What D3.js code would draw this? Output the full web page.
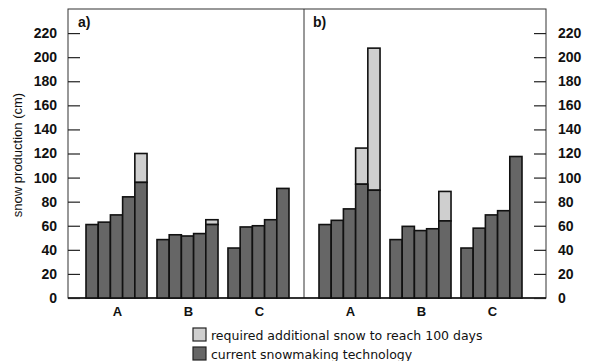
<!DOCTYPE html>
<html>
<head>
<meta charset="utf-8">
<script src="https://cdn.jsdelivr.net/npm/d3@7"></script>
<style>
  body { margin: 0; background: #fff; }
  svg { display: block; }
</style>
</head>
<body>
<div id="chart"></div>
<script>

let groups = ["A", "B", "C"];
let yTicks = [0, 20, 40, 60, 80, 100, 120, 140, 160, 180, 200, 220];

// panel a
let aCurrent = {
  A: [61, 63, 69, 84, 96],
  B: [48.5, 52.5, 51.5, 53.5, 61],
  C: [41.5, 59, 60, 65, 91]
};
let aExtra = {
  A: [0, 0, 0, 0, 24],
  B: [0, 0, 0, 0, 4],
  C: [0, 0, 0, 0, 0]
};

// panel b
let bCurrent = {
  A: [61, 64.5, 74, 94.5, 89.5],
  B: [48.5, 59.5, 56, 57.5, 64],
  C: [41.5, 58, 69, 72.5, 117.5]
};
let bExtra = {
  A: [0, 0, 0, 30, 118],
  B: [0, 0, 0, 0, 24.5],
  C: [0, 0, 0, 0, 0]
};

let legendLabels = ["required additional snow to reach 100 days", "current snowmaking technology"];

let darkFill = "#666666";
let lightFill = "#cfcfcf";

let w = 589, h = 361;
let frameL = 68, frameR = 546, frameT = 9, frameB = 298, mid = 304;

let svg = d3.select("#chart").append("svg")
    .attr("width", w)
    .attr("height", h);

let y = d3.scaleLinear().domain([0, 240]).range([frameB, frameT]);

let tickFont = "'Liberation Sans', Arial, sans-serif";

// frame
svg.append("rect")
  .attr("x", frameL).attr("y", frameT)
  .attr("width", frameR - frameL).attr("height", frameB - frameT)
  .attr("fill", "none").attr("stroke", "#333").attr("stroke-width", 1);
svg.append("line")
  .attr("x1", mid).attr("x2", mid).attr("y1", frameT).attr("y2", frameB)
  .attr("stroke", "#333").attr("stroke-width", 1);
svg.append("line")
  .attr("x1", frameL).attr("x2", frameR).attr("y1", frameB).attr("y2", frameB)
  .attr("stroke", "#111").attr("stroke-width", 1.5);

// axes
let yLeft = d3.axisLeft(y).tickValues(yTicks).tickSize(-12).tickPadding(11);
let yRight = d3.axisRight(y).tickValues(yTicks).tickSize(-12).tickPadding(12);

let gl = svg.append("g").attr("transform", `translate(${frameL},0)`).call(yLeft);
let gr = svg.append("g").attr("transform", `translate(${frameR},0)`).call(yRight);
for (let g of [gl, gr]) {
  g.select(".domain").remove();
  g.selectAll(".tick line").attr("stroke", "#222").attr("stroke-width", 1.2);
  g.selectAll(".tick text")
    .attr("font-family", tickFont)
    .attr("font-size", 14)
    .attr("font-weight", "bold")
    .attr("fill", "#111");
}

svg.append("text")
  .attr("transform", "translate(22,155) rotate(-90)")
  .attr("text-anchor", "middle")
  .attr("font-family", tickFont)
  .attr("font-size", 13)
  .attr("fill", "#111")
  .text("snow production (cm)");

function drawPanel (current, extra, x0, x1, label, labelX) {
  let xg = d3.scaleBand().domain(groups).range([x0, x1]).paddingInner(0.14).paddingOuter(0);
  let xi = d3.scaleBand().domain(d3.range(5)).range([0, xg.bandwidth()]);

  let p = svg.append("g");

  for (let gname of groups) {
    let gg = p.append("g").attr("transform", `translate(${xg(gname)},0)`);
    let rows = current[gname].map((v, i) => ({i: i, cur: v, add: extra[gname][i]}));

    gg.selectAll("rect.add")
      .data(rows.filter(d => d.add > 0))
      .enter().append("rect")
      .attr("class", "add")
      .attr("x", d => xi(d.i))
      .attr("width", xi.bandwidth())
      .attr("y", d => y(d.cur + d.add))
      .attr("height", d => y(d.cur) - y(d.cur + d.add))
      .attr("fill", lightFill)
      .attr("stroke", "#111")
      .attr("stroke-width", 1.6);

    gg.selectAll("rect.cur")
      .data(rows)
      .enter().append("rect")
      .attr("class", "cur")
      .attr("x", d => xi(d.i))
      .attr("width", xi.bandwidth())
      .attr("y", d => y(d.cur))
      .attr("height", d => y(0) - y(d.cur))
      .attr("fill", darkFill)
      .attr("stroke", "#111")
      .attr("stroke-width", 1.6);

    p.append("text")
      .attr("x", xg(gname) + xg.bandwidth() / 2 + 1)
      .attr("y", 316)
      .attr("text-anchor", "middle")
      .attr("font-family", tickFont)
      .attr("font-size", 13)
      .attr("font-weight", "bold")
      .attr("fill", "#111")
      .text(gname);
  }

  p.append("text")
    .attr("x", labelX)
    .attr("y", 27)
    .attr("font-family", tickFont)
    .attr("font-size", 14)
    .attr("font-weight", "bold")
    .attr("fill", "#111")
    .text(label);
}

drawPanel(aCurrent, aExtra, 86, 289, "a)", 78);
drawPanel(bCurrent, bExtra, 319, 522, "b)", 313);

// legend
let lg = svg.append("g").attr("transform", "translate(193,328)");
let legendFills = [lightFill, darkFill];
legendLabels.forEach((t, i) => {
  lg.append("rect")
    .attr("x", 0).attr("y", i * 19)
    .attr("width", 13).attr("height", 13)
    .attr("fill", legendFills[i])
    .attr("stroke", "#222").attr("stroke-width", 1.2);
  lg.append("text")
    .attr("x", 18).attr("y", i * 19 + 11.5)
    .attr("font-family", "'DejaVu Sans', Verdana, sans-serif")
    .attr("font-size", 12.5)
    .attr("fill", "#111")
    .text(t);
});

</script>
</body>
</html>
